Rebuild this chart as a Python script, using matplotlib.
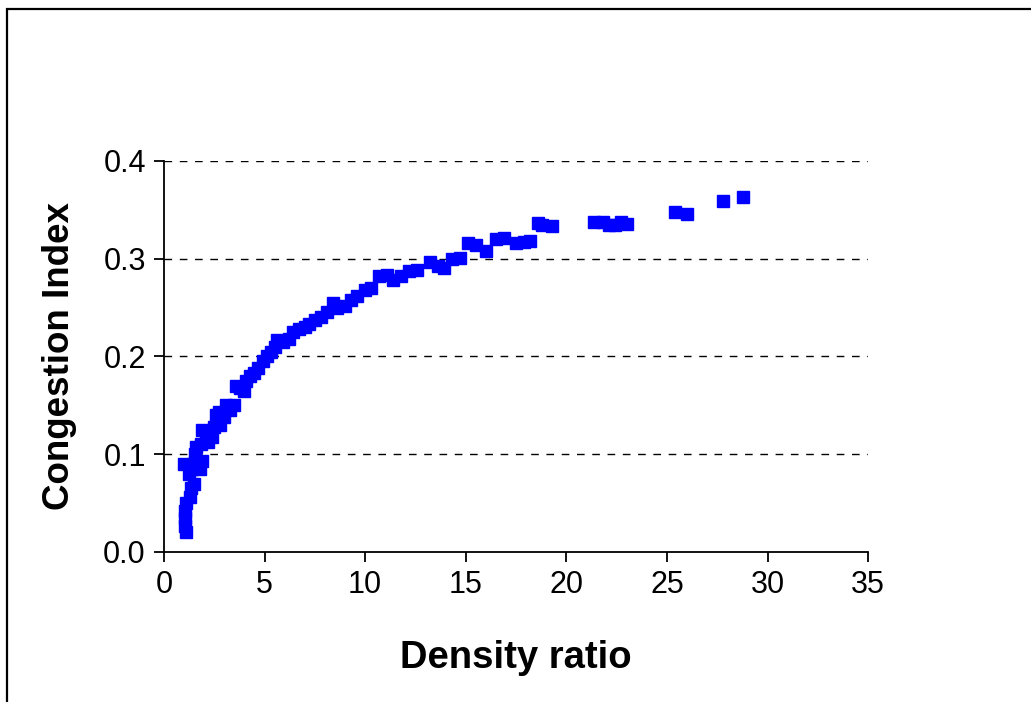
import matplotlib.pyplot as plt
from matplotlib.patches import Rectangle

plt.rcParams['font.family'] = ['Liberation Sans', 'DejaVu Sans']

# Density ratio vs congestion index
density_ratio = [
    1.10, 1.05, 1.05, 1.05, 1.10, 1.30, 1.35, 1.50, 1.00, 1.25,
    1.40, 1.55, 1.70, 1.80, 1.90, 1.55, 1.60, 1.85, 1.90, 2.10,
    2.20, 2.40, 2.50, 2.60, 2.75, 2.80, 3.00, 3.10, 3.30, 3.50,
    3.60, 3.80, 4.00, 4.10, 4.30, 4.50, 4.70, 4.90, 5.10, 5.30,
    5.50, 5.60, 5.90, 6.20, 6.40, 6.70, 7.00, 7.20, 7.50, 7.80,
    8.10, 8.40, 8.60, 9.00, 9.30, 9.60, 10.0, 10.3, 10.7, 11.1,
    11.4, 11.8, 12.2, 12.6, 13.2, 13.6, 13.9, 14.3, 14.7, 15.1,
    15.5, 16.0, 16.5, 16.9, 17.5, 17.9, 18.2, 18.6, 18.8, 19.3,
    21.4, 21.8, 22.1, 22.4, 22.7, 23.0, 25.4, 26.0, 27.8, 28.8,
]
congestion_index = [
    0.020, 0.027, 0.035, 0.042, 0.050, 0.056, 0.065, 0.070, 0.090, 0.080,
    0.085, 0.092, 0.088, 0.085, 0.093, 0.100, 0.107, 0.110, 0.125, 0.120,
    0.112, 0.118, 0.128, 0.140, 0.143, 0.130, 0.138, 0.150, 0.145, 0.150,
    0.170, 0.168, 0.165, 0.175, 0.180, 0.183, 0.188, 0.195, 0.200, 0.205,
    0.210, 0.217, 0.215, 0.218, 0.225, 0.228, 0.230, 0.233, 0.237, 0.240,
    0.245, 0.255, 0.250, 0.252, 0.258, 0.262, 0.268, 0.270, 0.282, 0.283,
    0.278, 0.282, 0.287, 0.288, 0.297, 0.293, 0.290, 0.300, 0.301, 0.316,
    0.314, 0.308, 0.320, 0.321, 0.316, 0.317, 0.318, 0.337, 0.335, 0.333,
    0.338, 0.338, 0.335, 0.334, 0.338, 0.336, 0.348, 0.346, 0.359, 0.363,
]
x_ticks = [0, 5, 10, 15, 20, 25, 30, 35]
y_ticks = [0.0, 0.1, 0.2, 0.3, 0.4]

fig = plt.figure(figsize=(10.31, 7.02), dpi=100)
ax = fig.add_axes([0.159, 0.2137, 0.683, 0.557])

# frame around the chart (only left and top edges fall inside the picture)
fig.patches.append(Rectangle((0.0068, -0.1), 1.2, 1.087, transform=fig.transFigure,
                             fill=False, edgecolor='black', lw=1.6, clip_on=False))

ax.plot(density_ratio, congestion_index, linestyle='none', marker='s',
        markersize=8, color='#0000FF', markeredgecolor='#0000FF', zorder=3)

ax.set_xlim(0, 35)
ax.set_ylim(0, 0.4)
ax.set_xticks(x_ticks)
ax.set_yticks(y_ticks)
ax.set_yticklabels([f"{v:.1f}" for v in y_ticks])

for v in y_ticks[1:]:
    ax.axhline(v, color='black', lw=1, linestyle=(0, (5.5, 5.5)), zorder=1)

for side in ['top', 'right']:
    ax.spines[side].set_visible(False)
for side in ['left', 'bottom']:
    ax.spines[side].set_linewidth(1.3)

ax.tick_params(direction='out', length=7, width=1.3, labelsize=22, pad=6)

ax.set_xlabel('Density ratio', fontsize=27.5, fontweight='bold', labelpad=29)
ax.set_ylabel('Congestion Index', fontsize=26.5, fontweight='bold', labelpad=19)

fig.savefig('out.png', dpi=100)
